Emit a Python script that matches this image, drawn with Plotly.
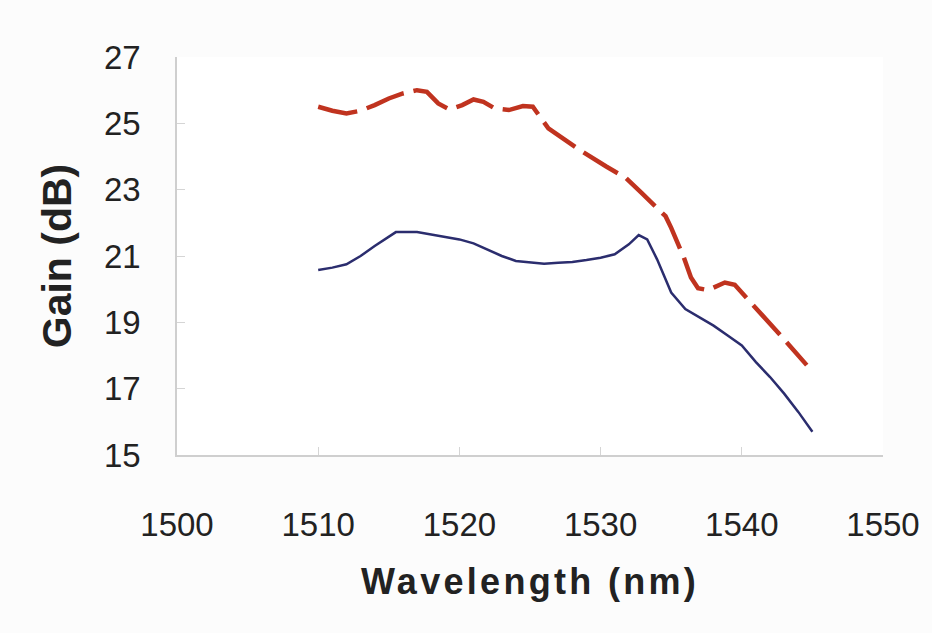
import plotly.graph_objects as go

# Blue (solid) series
wl_blue = [1510, 1511, 1512, 1513, 1514, 1515.5, 1517, 1518.5, 1520, 1521, 1522, 1523,
           1524, 1525, 1526, 1527, 1528, 1529, 1530, 1531, 1532, 1532.7, 1533.3, 1534,
           1535, 1536, 1537, 1538, 1539, 1540, 1541, 1542, 1543, 1544, 1545]
gain_blue = [20.58, 20.65, 20.75, 21.0, 21.3, 21.72, 21.72, 21.62, 21.5, 21.38, 21.2, 21.0,
             20.85, 20.8, 20.77, 20.8, 20.82, 20.88, 20.95, 21.05, 21.35, 21.63, 21.5, 20.9,
             19.9, 19.4, 19.15, 18.9, 18.6, 18.3, 17.8, 17.35, 16.85, 16.3, 15.7]

# Red (dashed) series
wl_red = [1510, 1511, 1512, 1513, 1514, 1515, 1516, 1517, 1517.7, 1518.5, 1519.3, 1520.2,
          1521, 1521.7, 1522.5, 1523.5, 1524.5, 1525.2, 1526.3, 1527.5, 1528.5, 1530.4,
          1531.8, 1532.9, 1534.6, 1535, 1535.9, 1536.4, 1536.9, 1537.6, 1538.2, 1538.8,
          1539.5, 1540.7, 1542.4, 1544.6]
gain_red = [25.5, 25.38, 25.3, 25.38, 25.55, 25.75, 25.9, 26.0, 25.95, 25.6, 25.42, 25.55,
            25.72, 25.65, 25.45, 25.4, 25.52, 25.5, 24.85, 24.5, 24.2, 23.7,
            23.35, 22.9, 22.2, 21.85, 20.95, 20.35, 20.03, 19.97, 20.1, 20.2,
            20.13, 19.58, 18.77, 17.71]

x_ticks = [1500, 1510, 1520, 1530, 1540, 1550]
y_ticks = [15, 17, 19, 21, 23, 25, 27]

fig = go.Figure()
fig.add_trace(go.Scatter(x=wl_blue, y=gain_blue, mode="lines",
                         line=dict(color="#2b2d6e", width=2.5), showlegend=False))
fig.add_trace(go.Scatter(x=wl_red, y=gain_red, mode="lines",
                         line=dict(color="#c0331f", width=4.5, dash="40px,10px"),
                         showlegend=False))

tick_font = dict(family="Liberation Sans, Arial, sans-serif", size=33, color="#222222")

fig.update_layout(
    width=932, height=633,
    margin=dict(l=177, r=47, t=57, b=178),
    paper_bgcolor="#fcfcfc", plot_bgcolor="#ffffff",
    xaxis=dict(range=[1500, 1550], tickvals=x_ticks, ticktext=[str(v) for v in x_ticks],
               showgrid=False, zeroline=False, showline=True, linecolor="#cfcfcf", linewidth=1.5,
               ticks="inside", ticklen=8, tickcolor="#d5d5d5", tickfont=tick_font,
               ticklabelstandoff=40,
               title=dict(text='<span style="letter-spacing:3.3px">Wavelength (nm)</span>',
                          font=dict(family="Liberation Sans, Arial, sans-serif", size=36,
                                    color="#222222", weight="bold"),
                          standoff=26)),
    yaxis=dict(range=[15, 27], tickvals=y_ticks, ticktext=[str(v) for v in y_ticks],
               showgrid=False, zeroline=False, showline=True, linecolor="#cfcfcf", linewidth=1.5,
               ticks="inside", ticklen=8, tickcolor="#d5d5d5", tickfont=tick_font,
               ticklabelstandoff=28,
               title=dict(text="Gain (dB)",
                          font=dict(family="Liberation Sans, Arial, sans-serif", size=41,
                                    color="#222222", weight="bold"),
                          standoff=20)),
)

fig.write_html("out.html")
